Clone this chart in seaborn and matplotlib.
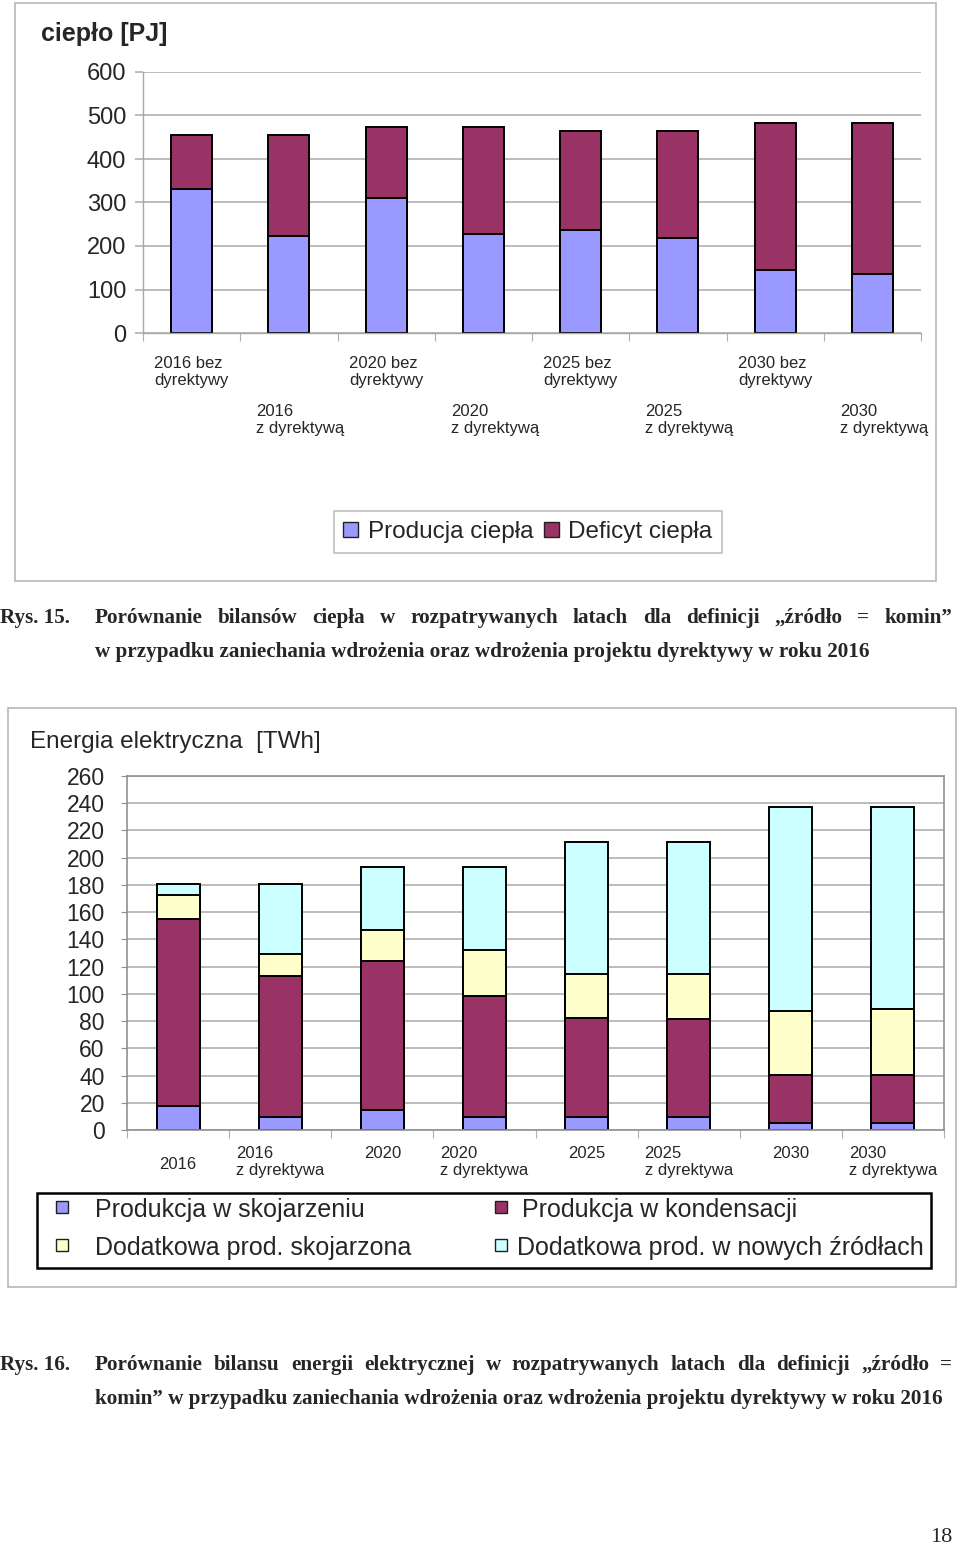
import matplotlib
matplotlib.use("Agg")
import numpy as np
import seaborn as sns
import matplotlib.pyplot as plt
import matplotlib.patches as mpatches
import matplotlib.transforms as mtransforms

# --- heat balance (PJ) ---
heat_categories = [
    "2016 bez\ndyrektywy", "2016\nz dyrektywą",
    "2020 bez\ndyrektywy", "2020\nz dyrektywą",
    "2025 bez\ndyrektywy", "2025\nz dyrektywą",
    "2030 bez\ndyrektywy", "2030\nz dyrektywą",
]
heat_production = [332, 223, 310, 227, 237, 219, 144, 135]
heat_deficit = [123, 232, 163, 246, 227, 245, 338, 347]
heat_ticks = [0, 100, 200, 300, 400, 500, 600]

# --- electricity balance (TWh) ---
elec_categories = [
    "2016", "2016\nz dyrektywa",
    "2020", "2020\nz dyrektywa",
    "2025", "2025\nz dyrektywa",
    "2030", "2030\nz dyrektywa",
]
elec_chp = [17.4, 9.3, 14.7, 9.3, 9.3, 9.3, 5.2, 5.2]
elec_condensing = [137.6, 104.0, 109.3, 89.3, 73.1, 71.9, 35.0, 35.0]
elec_extra_chp = [17.5, 15.7, 23.0, 33.9, 32.1, 33.3, 47.4, 48.8]
elec_extra_new = [8.5, 52.0, 46.0, 60.5, 97.2, 97.2, 149.6, 148.2]
elec_ticks = list(range(0, 261, 20))
elec_series = ["Produkcja w skojarzeniu", "Produkcja w kondensacji",
               "Dodatkowa prod. skojarzona", "Dodatkowa prod. w nowych źródłach"]

caption15 = [
    "Porównanie bilansów ciepła w rozpatrywanych latach dla definicji „źródło = komin”",
    "w przypadku zaniechania wdrożenia oraz wdrożenia projektu dyrektywy w roku 2016",
]
caption16 = [
    "Porównanie bilansu energii elektrycznej w rozpatrywanych latach dla definicji „źródło =",
    "komin” w przypadku zaniechania wdrożenia oraz wdrożenia projektu dyrektywy w roku 2016",
]

C_BLUE = "#9999FF"
C_PLUM = "#993366"
C_YELLOW = "#FFFFCC"
C_CYAN = "#CCFFFF"
elec_colors = [C_BLUE, C_PLUM, C_YELLOW, C_CYAN]

sns.set_style("white")
plt.rcParams["font.family"] = ["Liberation Sans", "DejaVu Sans"]

W, H = 960, 1545
fig = plt.figure(figsize=(W / 100, H / 100), dpi=100)


def fx(px):
    return px / W


def fy(py):
    return 1 - py / H


def stacked(ax, categories, layers, colors):
    cum = np.cumsum(np.array(layers), axis=0)
    # tallest cumulative layer first, lower layers painted over it
    for level, color in reversed(list(zip(cum, colors))):
        sns.barplot(x=categories, y=level, order=categories, color=color,
                    saturation=1, edgecolor="black", linewidth=1.4,
                    width=0.42, errorbar=None, ax=ax)


def cat_labels(ax, categories, rows, shifts, size):
    tr = mtransforms.blended_transform_factory(ax.transData, fig.transFigure)
    for i, lab in enumerate(categories):
        ax.text(i + shifts[i], fy(rows[i]), lab, transform=tr, ha="center",
                va="top", multialignment="left", fontsize=size, linespacing=1.2)


def justify(words, x0, x1, y, **kw):
    texts = [fig.text(fx(x0), y, w, **kw) for w in words]
    r = fig.canvas.get_renderer()
    widths = [t.get_window_extent(r).width for t in texts]
    gap = (x1 - x0 - sum(widths)) / (len(words) - 1)
    x = x0
    for t, w in zip(texts, widths):
        t.set_x(fx(x))
        x += w + gap


def frame_box(x0, y0, x1, y1, color, lw):
    fig.add_artist(mpatches.Rectangle((fx(x0), fy(y1)), fx(x1 - x0), (y1 - y0) / H,
                                      transform=fig.transFigure, fill=False,
                                      edgecolor=color, linewidth=lw))


# ---------------- top chart ----------------
frame_box(15, 3, 936, 581, "#b8b8b8", 1.2)
ax1 = fig.add_axes([fx(143), fy(333), fx(778), 261 / H])
stacked(ax1, heat_categories, [heat_production, heat_deficit], [C_BLUE, C_PLUM])
ax1.set_ylim(0, 600)
ax1.set_xlim(-0.5, 7.5)
ax1.set_yticks(heat_ticks)
ax1.set_yticklabels([str(t) for t in heat_ticks], fontsize=17)
ax1.set_xticks(np.arange(-0.5, 8, 1))
ax1.set_xticklabels([])
ax1.set_axisbelow(True)
ax1.yaxis.grid(True, color="#b0b0b0", linewidth=1.2)
for s in ["top", "right"]:
    ax1.spines[s].set_visible(False)
for s in ["left", "bottom"]:
    ax1.spines[s].set_color("#a8a8a8")
    ax1.spines[s].set_linewidth(1.0)
ax1.tick_params(axis="y", length=6, color="#b0b0b0", width=1.2, pad=6, left=True)
ax1.tick_params(axis="x", length=6, color="#b0b0b0", bottom=True)
ax1.set_xlabel("")
ax1.set_ylabel("")
cat_labels(ax1, heat_categories, [356, 404] * 4, [0, 0.12] * 4, 12)
fig.text(fx(41), fy(34), "ciepło [PJ]", fontsize=18, fontweight="bold", va="center")

leg1 = fig.legend(
    handles=[mpatches.Patch(facecolor=C_BLUE, edgecolor="#202020", label="Producja ciepła"),
             mpatches.Patch(facecolor=C_PLUM, edgecolor="#202020", label="Deficyt ciepła")],
    loc="center", bbox_to_anchor=(fx(528), fy(532)), ncol=2, fontsize=17.5,
    frameon=True, fancybox=False, edgecolor="#b0b0b0", handlelength=0.6,
    handleheight=0.6, handletextpad=0.4, columnspacing=0.45, borderpad=0.4,
)
leg1.get_frame().set_linewidth(1.2)

# ---------------- bottom chart ----------------
frame_box(8, 708, 956, 1287, "#b8b8b8", 1.2)
ax2 = fig.add_axes([fx(127), fy(1130), fx(817), 354 / H])
stacked(ax2, elec_categories,
        [elec_chp, elec_condensing, elec_extra_chp, elec_extra_new], elec_colors)
ax2.set_ylim(0, 260)
ax2.set_xlim(-0.5, 7.5)
ax2.set_yticks(elec_ticks)
ax2.set_yticklabels([str(t) for t in elec_ticks], fontsize=16.5)
ax2.set_xticks(np.arange(-0.5, 8, 1))
ax2.set_xticklabels([])
ax2.set_axisbelow(True)
ax2.yaxis.grid(True, color="#b0b0b0", linewidth=1.2)
for s in ax2.spines.values():
    s.set_color("#909090")
    s.set_linewidth(1.2)
ax2.tick_params(axis="y", length=4, color="#909090", pad=12, left=True)
ax2.tick_params(axis="x", length=6, color="#b0b0b0", bottom=True)
ax2.set_xlabel("")
ax2.set_ylabel("")
cat_labels(ax2, elec_categories, [1157] + [1146] * 7, [0] * 8, 12)
fig.text(fx(30), fy(742), "Energia elektryczna  [TWh]", fontsize=17.5, va="center")

# legend box of the electricity chart (Excel-style, 2 x 2)
frame_box(37, 1193, 931, 1268, "black", 1.8)
leg_pos = [(56, 1207, 95), (495, 1207, 522), (56, 1245, 95), (495, 1245, 517)]
for (mx, my, tx), label, color in zip(leg_pos, elec_series, elec_colors):
    fig.add_artist(mpatches.Rectangle((fx(mx), fy(my + 6)), fx(12), 12 / H,
                                      transform=fig.transFigure, facecolor=color,
                                      edgecolor="#202020", linewidth=1.0))
    fig.text(fx(tx), fy(my + 3), label, fontsize=18, va="center")

# ---------------- captions ----------------
cap_kw = dict(fontsize=15.2, fontweight="bold", family=["Liberation Serif", "DejaVu Serif"],
              va="baseline")
fig.text(0, fy(623), "Rys. 15.", **cap_kw)
justify(caption15[0].split(), 95, 952, fy(623), **cap_kw)
fig.text(fx(95), fy(657), caption15[1], **cap_kw)

fig.text(0, fy(1370), "Rys. 16.", **cap_kw)
justify(caption16[0].split(), 95, 952, fy(1370), **cap_kw)
fig.text(fx(95), fy(1404), caption16[1], **cap_kw)

fig.text(fx(952), fy(1542), "18", fontsize=16, family=["Liberation Serif", "DejaVu Serif"],
         ha="right", va="baseline")

fig.savefig("out.png", dpi=100)
